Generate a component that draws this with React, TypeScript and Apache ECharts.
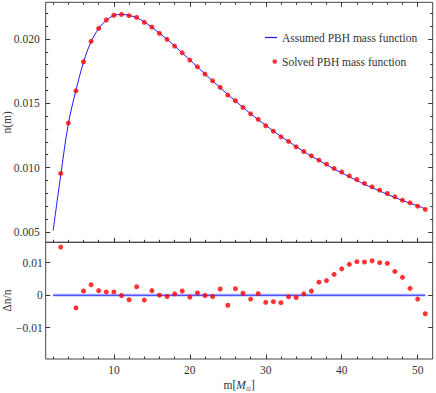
import React, { useEffect, useRef } from "react";
import * as echarts from "echarts";

// ---- data ----
const lineMass = [2,3,4,5,6,7,8,9,10,11,12,13,14,15,16,17,18,19,20,21,22,23,24,25,26,27,28,29,30,31,32,33,34,35,36,37,38,39,40,41,42,43,44,45,46,47,48,49,50,51];
const assumedN = [0.0051,0.0094,0.0134,0.0160,0.0182,0.0198,0.02082,0.02146,0.02183,0.02192,0.02184,0.02166,0.02133,0.02092,0.02045,0.01998,0.01946,0.01892,0.01838,0.01783,0.01728,0.01674,0.01622,0.01568,0.01518,0.01468,0.01419,0.01373,0.01328,0.01285,0.01242,0.01203,0.01163,0.01124,0.01090,0.01055,0.01022,0.00988,0.00958,0.00928,0.00899,0.00870,0.00843,0.00817,0.00791,0.00767,0.00744,0.00722,0.00701,0.00679];

const solvedMass = [3,4,5,6,7,8,9,10,11,12,13,14,15,16,17,18,19,20,21,22,23,24,25,26,27,28,29,30,31,32,33,34,35,36,37,38,39,40,41,42,43,44,45,46,47,48,49,50,51];
const solvedN = [0.00954,0.01346,0.01597,0.01823,0.01982,0.02083,0.02148,0.02185,0.02192,0.02182,0.02169,0.02130,0.02093,0.02044,0.01998,0.01945,0.01893,0.01836,0.01784,0.01727,0.01675,0.01624,0.01564,0.01520,0.01468,0.01418,0.01375,0.01325,0.01283,0.01239,0.01203,0.01161,0.01125,0.01091,0.01058,0.01026,0.00993,0.00965,0.00935,0.00907,0.00876,0.00850,0.00824,0.00798,0.00772,0.00746,0.00725,0.00699,0.00674];

const residMass = [3,5,6,7,8,9,10,11,12,13,14,15,16,17,18,19,20,21,22,23,24,25,26,27,28,29,30,31,32,33,34,35,36,37,38,39,40,41,42,43,44,45,46,47,48,49,50,51];
const residual = [0.0148,-0.0039,0.0013,0.0032,0.0014,0.0010,0.0010,-0.0001,-0.0014,0.0026,-0.0015,0.0014,0.0000,-0.0004,0.0004,0.0013,-0.0006,0.0007,-0.0001,-0.0004,0.0019,-0.0031,0.0020,0.0006,-0.0012,0.0005,-0.0022,-0.0020,-0.0023,-0.0005,-0.0007,0.0004,0.0013,0.0040,0.0045,0.0064,0.0081,0.0095,0.0103,0.0102,0.0106,0.0100,0.0098,0.0073,0.0055,0.0021,-0.0012,-0.0057];

const zeroLineMass = [2, 51];
const zeroLineVal = [0, 0];

// ---- ticks ----
const xMajorTicks = [10, 20, 30, 40, 50];
const xMinorTicks = [2,4,6,8,12,14,16,18,22,24,26,28,32,34,36,38,42,44,46,48];
const yTopMajorTicks = [0.005, 0.01, 0.015, 0.02];
const yTopMinorTicks = [0.006,0.007,0.008,0.009,0.011,0.012,0.013,0.014,0.016,0.017,0.018,0.019,0.021,0.022];
const yBotMajorTicks = [-0.01, 0, 0.01];

const X_MIN = 1.02, X_MAX = 51.98;
const YT_MIN = 0.00418, YT_MAX = 0.02286;
const YB_MIN = -0.01963, YB_MAX = 0.01627;

const FONT = "Liberation Serif";
const FRAME = "#444";
const TICK = "#333";
const TXT = "#333";

function xAx(grid: number, pos: "top" | "bottom", ticks: number[], len: number, labels: boolean, extra: any = {}) {
  return {
    type: "value", gridIndex: grid, position: pos, min: X_MIN, max: X_MAX,
    axisLine: { show: false, onZero: false },
    splitLine: { show: false },
    axisTick: { show: true, inside: true, length: len, customValues: ticks, lineStyle: { color: TICK, width: 1 } },
    axisLabel: labels
      ? { show: true, customValues: ticks, margin: 5, color: TXT, fontFamily: FONT, fontSize: 11.5 }
      : { show: false },
    ...extra,
  };
}

function yAx(grid: number, pos: "left" | "right", min: number, max: number, ticks: number[], len: number, labels: any, extra: any = {}) {
  return {
    type: "value", gridIndex: grid, position: pos, min, max,
    axisLine: { show: false, onZero: false },
    splitLine: { show: false },
    axisTick: { show: true, inside: true, length: len, customValues: ticks, lineStyle: { color: TICK, width: 1 } },
    axisLabel: labels ? { show: true, customValues: ticks, color: TXT, fontFamily: FONT, fontSize: 11.5, ...labels } : { show: false },
    ...extra,
  };
}

export default function App() {
  const ref = useRef<HTMLDivElement>(null);
  useEffect(() => {
    if (!ref.current) return;
    const chart = echarts.init(ref.current, undefined, { renderer: "svg" });
    const option: any = {
      animation: false,
      backgroundColor: "#fff",
      textStyle: { fontFamily: FONT },
      grid: [
        { left: 45.7, top: 2.3, right: 3.3, height: 240, containLabel: false, outerBoundsMode: "none", show: true, borderColor: FRAME, borderWidth: 1, backgroundColor: "transparent" },
        { left: 45.7, top: 242.3, right: 3.3, height: 116.7, containLabel: false, outerBoundsMode: "none", show: true, borderColor: FRAME, borderWidth: 1, backgroundColor: "transparent" },
      ],
      legend: [
        {
          data: [{ name: "Assumed PBH mass function", icon: "rect" }],
          left: 260, top: 26.5, itemWidth: 12, itemHeight: 1.2, selectedMode: false,
          textStyle: { fontFamily: FONT, fontSize: 11.5, color: TXT },
        },
        {
          data: [{ name: "Solved PBH mass function", icon: "circle" }],
          left: 267.5, top: 50.5, itemWidth: 4.5, itemHeight: 4.5, selectedMode: false,
          textStyle: { fontFamily: FONT, fontSize: 11.5, color: TXT },
        },
      ],
      xAxis: [
        xAx(0, "bottom", xMajorTicks, 4.5, false),
        xAx(0, "bottom", xMinorTicks, 2.5, false),
        xAx(0, "top", xMajorTicks, 4.5, false),
        xAx(0, "top", xMinorTicks, 2.5, false),
        xAx(1, "bottom", xMajorTicks, 4.5, true, {
          name: "{a|m[}{b|M}{c|⊙}{a|]}",
          nameLocation: "middle",
          nameGap: 20,
          nameMoveOverlap: false,
          nameTextStyle: {
            color: TXT, fontFamily: FONT, fontSize: 11.5,
            rich: {
              a: { fontFamily: FONT, fontSize: 11.5, color: TXT },
              b: { fontFamily: FONT, fontSize: 11.5, fontStyle: "italic", color: TXT },
              c: { fontFamily: "DejaVu Sans", fontSize: 6, color: TXT, padding: [6, 0, 0, 0] },
            },
          },
        }),
        xAx(1, "bottom", xMinorTicks, 2.5, false),
      ],
      yAxis: [
        yAx(0, "left", YT_MIN, YT_MAX, yTopMajorTicks, 4.5, { margin: 6, formatter: (v: number) => v.toFixed(3) }, {
          name: "n(m)", nameLocation: "middle", nameRotate: 90, nameGap: 33, nameMoveOverlap: false,
          nameTextStyle: { color: TXT, fontFamily: FONT, fontSize: 11.5 },
        }),
        yAx(0, "left", YT_MIN, YT_MAX, yTopMinorTicks, 2.5, null),
        yAx(0, "right", YT_MIN, YT_MAX, yTopMajorTicks, 4.5, null),
        yAx(0, "right", YT_MIN, YT_MAX, yTopMinorTicks, 2.5, null),
        yAx(1, "left", YB_MIN, YB_MAX, yBotMajorTicks, 4.5, {
          margin: 3,
          formatter: (v: number) => (Math.abs(v) < 1e-12 ? "0" : v < 0 ? "\u2212" + String(Math.abs(v)) : String(v)),
        }, {
          name: "Δn/n", nameLocation: "middle", nameRotate: 90, nameGap: 33, nameMoveOverlap: false,
          nameTextStyle: { color: TXT, fontFamily: FONT, fontSize: 11.5 },
        }),
        yAx(1, "right", YB_MIN, YB_MAX, yBotMajorTicks, 4.5, null),
      ],
      series: [
        {
          name: "Assumed PBH mass function", type: "line", xAxisIndex: 0, yAxisIndex: 0,
          data: lineMass.map((m, i) => [m, assumedN[i]]),
          showSymbol: false, smooth: 0.35, color: "#1a1aff",
          lineStyle: { color: "#1a1aff", width: 1 }, z: 2,
        },
        {
          name: "Solved PBH mass function", type: "scatter", xAxisIndex: 0, yAxisIndex: 0,
          data: solvedMass.map((m, i) => [m, solvedN[i]]),
          symbol: "circle", symbolSize: 5, color: "#ff0000",
          itemStyle: { color: "#ff0000" }, z: 3,
        },
        {
          name: "zeroHalo", type: "line", xAxisIndex: 4, yAxisIndex: 4,
          data: zeroLineMass.map((m, i) => [m, zeroLineVal[i]]),
          showSymbol: false, lineStyle: { color: "rgba(110,130,255,0.3)", width: 3.5 }, z: 1,
        },
        {
          name: "zeroLine", type: "line", xAxisIndex: 4, yAxisIndex: 4,
          data: zeroLineMass.map((m, i) => [m, zeroLineVal[i]]),
          showSymbol: false, lineStyle: { color: "#1a1aff", width: 1 }, z: 2,
        },
        {
          name: "Residual", type: "scatter", xAxisIndex: 4, yAxisIndex: 4,
          data: residMass.map((m, i) => [m, residual[i]]),
          symbol: "circle", symbolSize: 5, itemStyle: { color: "#ff0000" }, z: 3,
        },
      ],
    };
    chart.setOption(option);
    return () => chart.dispose();
  }, []);
  return <div ref={ref} style={{ position: "absolute", left: 0, top: 0, width: 436, height: 393 }} />;
}
